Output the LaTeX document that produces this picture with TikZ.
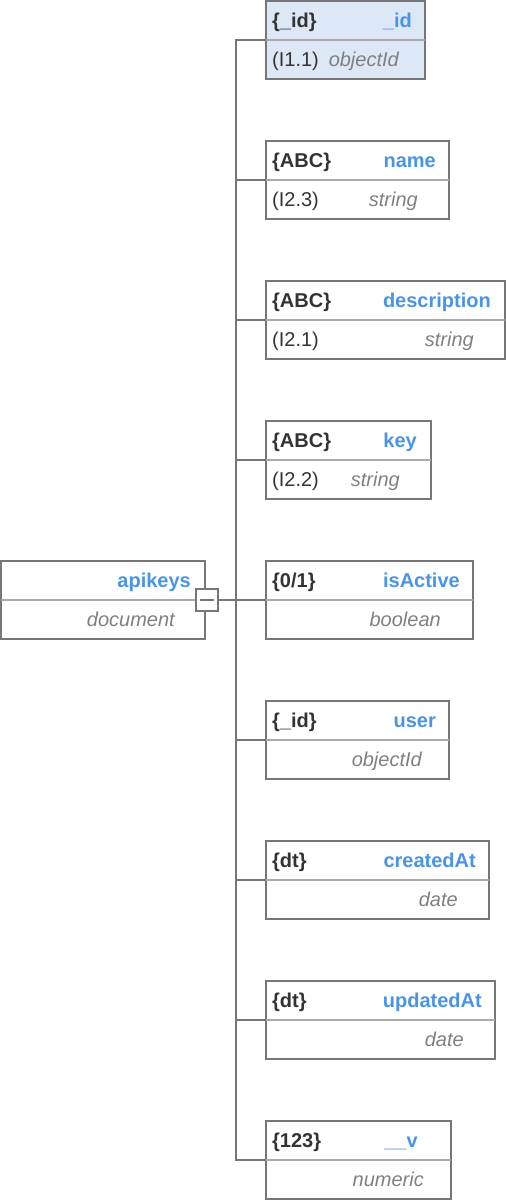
\documentclass[tikz,border=0pt]{standalone}
\usepackage{fontspec}
\setmainfont{Liberation Sans}
\usetikzlibrary{positioning}
\definecolor{fieldblue}{HTML}{4A94E8}
\definecolor{darktext}{HTML}{333333}
\definecolor{typegray}{HTML}{808080}
\definecolor{boxgray}{HTML}{777777}
\definecolor{divgray}{HTML}{AAAAAA}
\definecolor{idfill}{HTML}{DCE8F5}
\begin{document}
\begin{tikzpicture}[x=1pt, y=-1pt, node font=\fontsize{20}{23}\selectfont]
\tikzstyle{box} = [rectangle, draw=boxgray, line width=1.8pt, minimum height=78pt, anchor=north west, inner sep=0pt, outer sep=0pt]
\tikzstyle{div} = [draw=divgray, line width=1.3pt]
\tikzstyle{conn} = [draw=boxgray, line width=1.8pt]
\tikzstyle{btn} = [rectangle, draw=boxgray, fill=white, line width=1.6pt, minimum size=22pt, inner sep=0pt, outer sep=0pt]
\tikzstyle{typ} = [anchor=base west, inner sep=0pt, text=darktext, font=\bfseries]
\tikzstyle{fname} = [anchor=base east, inner sep=0pt, text=fieldblue, font=\bfseries]
\tikzstyle{keytxt} = [anchor=base west, inner sep=0pt, text=darktext]
\tikzstyle{dtype} = [anchor=base east, inner sep=0pt, text=typegray, font=\itshape]
\useasboundingbox (0,0) rectangle (506,1200);
% root document
\node[box, minimum width=204pt] at (1,561) (doc){};
\draw[div] (doc.west) -- (doc.east);
\node[fname] at (191,587) (docN){apikeys};
\node[dtype] at (175,626) (docD){document};
% fields
\node[box, fill=idfill, minimum width=159pt] at (266,1) (id){};
\draw[div] (id.west) -- (id.east);
\node[typ] at (272,27) (idT){\{\_id\}};
\node[fname] at (412,27) (idN){\_id};
\node[keytxt] at (272,66) (idK){(I1.1)};
\node[dtype] at (399,66) (idD){objectId};
\node[box, minimum width=183pt] at (266,141) (name){};
\draw[div] (name.west) -- (name.east);
\node[typ] at (272,167) (nameT){\{ABC\}};
\node[fname] at (436,167) (nameN){name};
\node[keytxt] at (272,206) (nameK){(I2.3)};
\node[dtype] at (418,206) (nameD){string};
\node[box, minimum width=239pt] at (266,281) (descr){};
\draw[div] (descr.west) -- (descr.east);
\node[typ] at (272,307) (descrT){\{ABC\}};
\node[fname] at (491,307) (descrN){description};
\node[keytxt] at (272,346) (descrK){(I2.1)};
\node[dtype] at (474,346) (descrD){string};
\node[box, minimum width=165pt] at (266,421) (key){};
\draw[div] (key.west) -- (key.east);
\node[typ] at (272,447) (keyT){\{ABC\}};
\node[fname] at (417,447) (keyN){key};
\node[keytxt] at (272,486) (keyK){(I2.2)};
\node[dtype] at (400,486) (keyD){string};
\node[box, minimum width=207pt] at (266,561) (active){};
\draw[div] (active.west) -- (active.east);
\node[typ] at (272,587) (activeT){\{0/1\}};
\node[fname] at (460,587) (activeN){isActive};
\node[dtype] at (441,626) (activeD){boolean};
\node[box, minimum width=183pt] at (266,701) (user){};
\draw[div] (user.west) -- (user.east);
\node[typ] at (272,727) (userT){\{\_id\}};
\node[fname] at (436,727) (userN){user};
\node[dtype] at (422,766) (userD){objectId};
\node[box, minimum width=223pt] at (266,841) (created){};
\draw[div] (created.west) -- (created.east);
\node[typ] at (272,867) (createdT){\{dt\}};
\node[fname] at (476,867) (createdN){createdAt};
\node[dtype] at (458,906) (createdD){date};
\node[box, minimum width=229pt] at (266,981) (updated){};
\draw[div] (updated.west) -- (updated.east);
\node[typ] at (272,1007) (updatedT){\{dt\}};
\node[fname] at (482,1007) (updatedN){updatedAt};
\node[dtype] at (464,1046) (updatedD){date};
\node[box, minimum width=185pt] at (266,1121) (ver){};
\draw[div] (ver.west) -- (ver.east);
\node[typ] at (272,1147) (verT){\{123\}};
\node[fname] at (418,1147) (verN){\_\_v};
\node[dtype] at (424,1186) (verD){numeric};
%% connectors
\coordinate (top) at (236,40);
\coordinate (bot) at (236,1160);
\node[btn] at (207,600) (btn){};
\draw[conn, line width=1.3pt] ([xshift=4pt]btn.west) -- ([xshift=-4pt]btn.east);
\draw[conn] (id.west) -- (top) -- (bot) -- (ver.west);
\draw[conn] (btn.east) -- (active.west);
\draw[conn] (name.west) -- (name.west -| top);
\draw[conn] (descr.west) -- (descr.west -| top);
\draw[conn] (key.west) -- (key.west -| top);
\draw[conn] (user.west) -- (user.west -| top);
\draw[conn] (created.west) -- (created.west -| top);
\draw[conn] (updated.west) -- (updated.west -| top);
\end{tikzpicture}
\end{document}
